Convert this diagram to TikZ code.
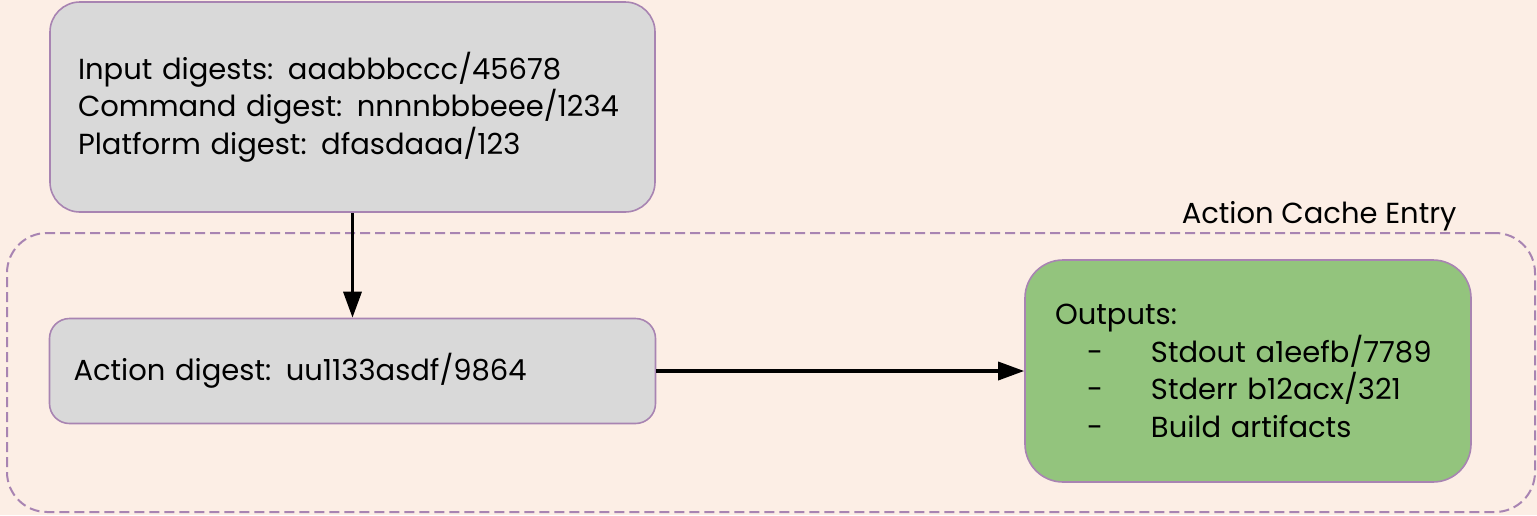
\documentclass[tikz,border=0pt]{standalone}
\usepackage{fontspec}
\setmainfont{Poppins}
\usetikzlibrary{arrows.meta}
\definecolor{paper}{HTML}{FCEEE5}
\definecolor{edge}{HTML}{A884B2}
\definecolor{boxgray}{HTML}{D9D9D9}
\definecolor{boxgreen}{HTML}{93C47D}
\begin{document}
\begin{tikzpicture}[x=1pt,y=-1pt,
        font=\fontsize{29}{37.5}\selectfont,
        card/.style={draw=edge, line width=1.6pt, rounded corners=#1, align=left, inner sep=0pt},
        flow/.style={line width=3.4pt, -{Triangle[length=26pt,width=18pt]}}]
        \fill[paper] (0,0) rectangle (1537,515);
        \useasboundingbox (0,0) rectangle (1537,515);
        % dashed frame of the cache entry
        \node[draw=edge, line width=2pt, dash pattern=on 10pt off 5pt, rounded corners=40pt,
              minimum width=1528pt, minimum height=279pt, inner sep=0pt] (cache) at (771,372.5) {};
        \node[anchor=base east] (cachelabel) at (1460,223) {Action Cache Entry};
        % digests that make up the action key
        \node[card=30pt, fill=boxgray, minimum width=605pt, minimum height=210pt,
              text width=549pt] (keys) at (352.5,107) {Input digests: aaabbbccc/45678\\
            Command digest: nnnnbbbeee/1234\\
            Platform digest: dfasdaaa/123};
        \node[card=20pt, fill=boxgray, minimum width=606pt, minimum height=105pt,
              text width=558pt] (action) at (352.5,371) {Action digest: uu1133asdf/9864};
        \node[card=38pt, fill=boxgreen, minimum width=446pt, minimum height=222pt,
              text width=386pt] (outputs) at (1248,371) {Outputs:\\
            \makebox[96pt][l]{\hspace{32pt}-}Stdout a1eefb/7789\\
            \makebox[96pt][l]{\hspace{32pt}-}Stderr b12acx/321\\
            \makebox[96pt][l]{\hspace{32pt}-}Build artifacts};
        \draw[flow] (keys.south) -- (action.north);
        \draw[flow] (action.east) -- (outputs.west);
\end{tikzpicture}
\end{document}
